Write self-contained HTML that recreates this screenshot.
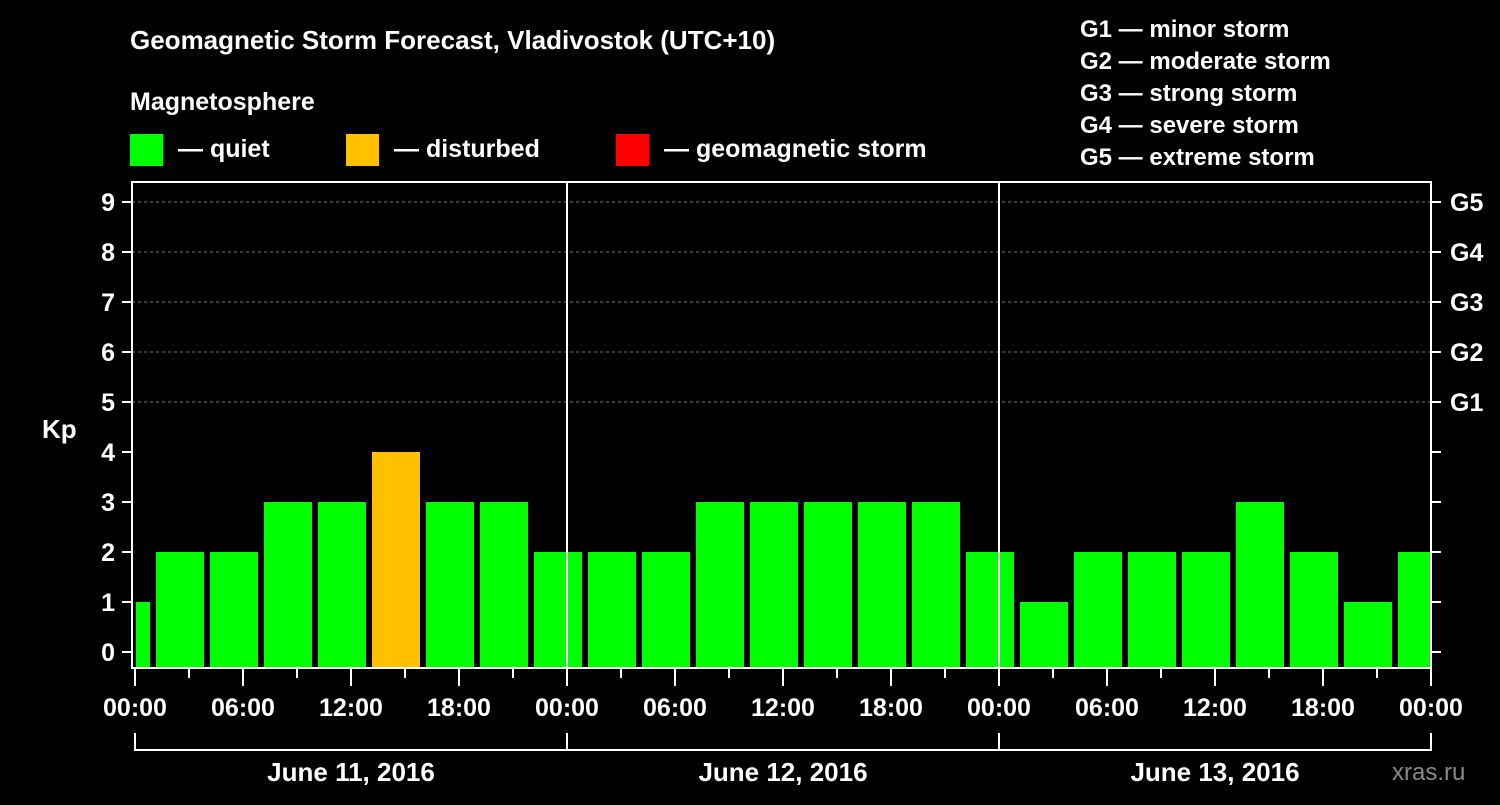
<!DOCTYPE html>
<html><head><meta charset="utf-8"><style>
body{margin:0;background:#000;width:1500px;height:800px;overflow:hidden}
svg text{font-family:"Liberation Sans",sans-serif;font-weight:bold;fill:#fff}
</style></head><body>
<svg id="chart" width="1500" height="800" xmlns="http://www.w3.org/2000/svg">
<text x="130" y="49" font-size="26">Geomagnetic Storm Forecast, Vladivostok (UTC+10)</text>
<text x="130" y="110" font-size="25">Magnetosphere</text>
<g>
<rect x="130" y="134" width="33" height="32" fill="#00ff00"/>
<text x="178" y="157" font-size="25">— quiet</text>
<rect x="346" y="134" width="33" height="32" fill="#ffc000"/>
<text x="394" y="157" font-size="25">— disturbed</text>
<rect x="616" y="134" width="33" height="32" fill="#ff0000"/>
<text x="664" y="157" font-size="25">— geomagnetic storm</text>
</g>
<g font-size="24">
<text x="1080" y="37" font-size="24">G1 — minor storm</text>
<text x="1080" y="69" font-size="24">G2 — moderate storm</text>
<text x="1080" y="101" font-size="24">G3 — strong storm</text>
<text x="1080" y="133" font-size="24">G4 — severe storm</text>
<text x="1080" y="165" font-size="24">G5 — extreme storm</text>
</g>
<text x="42" y="438" font-size="26">Kp</text>
<text x="1392" y="780" font-size="24" fill="#888" style="fill:#8a8a8a;font-weight:normal">xras.ru</text>
<g id="plot"></g>
</svg>
<script>
const binStarts=[-2,1,4,7,10,13,16,19,22,25,28,31,34,37,40,43,46,49,52,55,58,61,64,67,70];
const kpValues=[1,2,2,3,3,4,3,3,2,2,2,3,3,3,3,3,2,1,2,2,2,3,2,1,2];
const yTicks=[0,1,2,3,4,5,6,7,8,9];
const gLabels=["","","","","","G1","G2","G3","G4","G5"];
const xTickLabels=["00:00","06:00","12:00","18:00","00:00","06:00","12:00","18:00","00:00","06:00","12:00","18:00","00:00"];
const dayLabels=["June 11, 2016","June 12, 2016","June 13, 2016"];
const NS="http://www.w3.org/2000/svg";
const L=132,R=1431,T=182,B=668;
const x=h=>135+h*(1296/72);
const y=k=>652-k*50;
const g=document.getElementById('plot');
function mk(t,a){const e=document.createElementNS(NS,t);for(const k in a)e.setAttribute(k,a[k]);g.appendChild(e);return e;}
// grid
yTicks.forEach(k=>{if(k>=5){const l=mk('line',{x1:L,x2:R,y1:y(k),y2:y(k),stroke:'#777','stroke-dasharray':'3,3'});

}});
// bars
binStarts.forEach((s,i)=>{const v=kpValues[i];let x0=Math.max(x(s)+3,L+4),x1=Math.min(x(s+3)-3,R-1);
const c=v>=5?'#ff0000':(v>=4?'#ffc000':'#00ff00');
const r=mk('rect',{x:x0,y:y(v),width:x1-x0,height:B-1-y(v),fill:c});

});
// day separators
[1,2].forEach(d=>{const l=mk('line',{x1:x(24*d),x2:x(24*d),y1:T,y2:B,stroke:'#fff','stroke-width':2});

});
// frame
const f=mk('rect',{x:L,y:T,width:R-L,height:B-T,fill:'none',stroke:'#fff','stroke-width':2});


// y ticks
yTicks.forEach((k,i)=>{
const t1=mk('line',{x1:122,x2:L,y1:y(k),y2:y(k),stroke:'#fff','stroke-width':2});


const t2=mk('line',{x1:R,x2:1441,y1:y(k),y2:y(k),stroke:'#fff','stroke-width':2});


const lb=mk('text',{x:115,y:y(k)+9,'font-size':25,'text-anchor':'end'});lb.textContent=k;


if(gLabels[i]){const gl=mk('text',{x:1450,y:y(k)+9,'font-size':25});gl.textContent=gLabels[i];

}
});
// x ticks
for(let h=0;h<=72;h+=3){const major=h%6===0;
const t=mk('line',{x1:x(h),x2:x(h),y1:B,y2:major?686:678,stroke:'#fff','stroke-width':2});

}
xTickLabels.forEach((s,i)=>{const t=mk('text',{x:x(i*6),y:716,'font-size':25,'text-anchor':'middle'});t.textContent=s;

});
// day brackets
const bl=mk('path',{d:`M${x(0)} 733V750H${x(72)}V733M${x(24)} 733V750M${x(48)} 733V750`,fill:'none',stroke:'#fff','stroke-width':2});


dayLabels.forEach((s,i)=>{const t=mk('text',{x:x(24*i+12),y:781,'font-size':26,'text-anchor':'middle'});t.textContent=s;

});
</script>
</body></html>
